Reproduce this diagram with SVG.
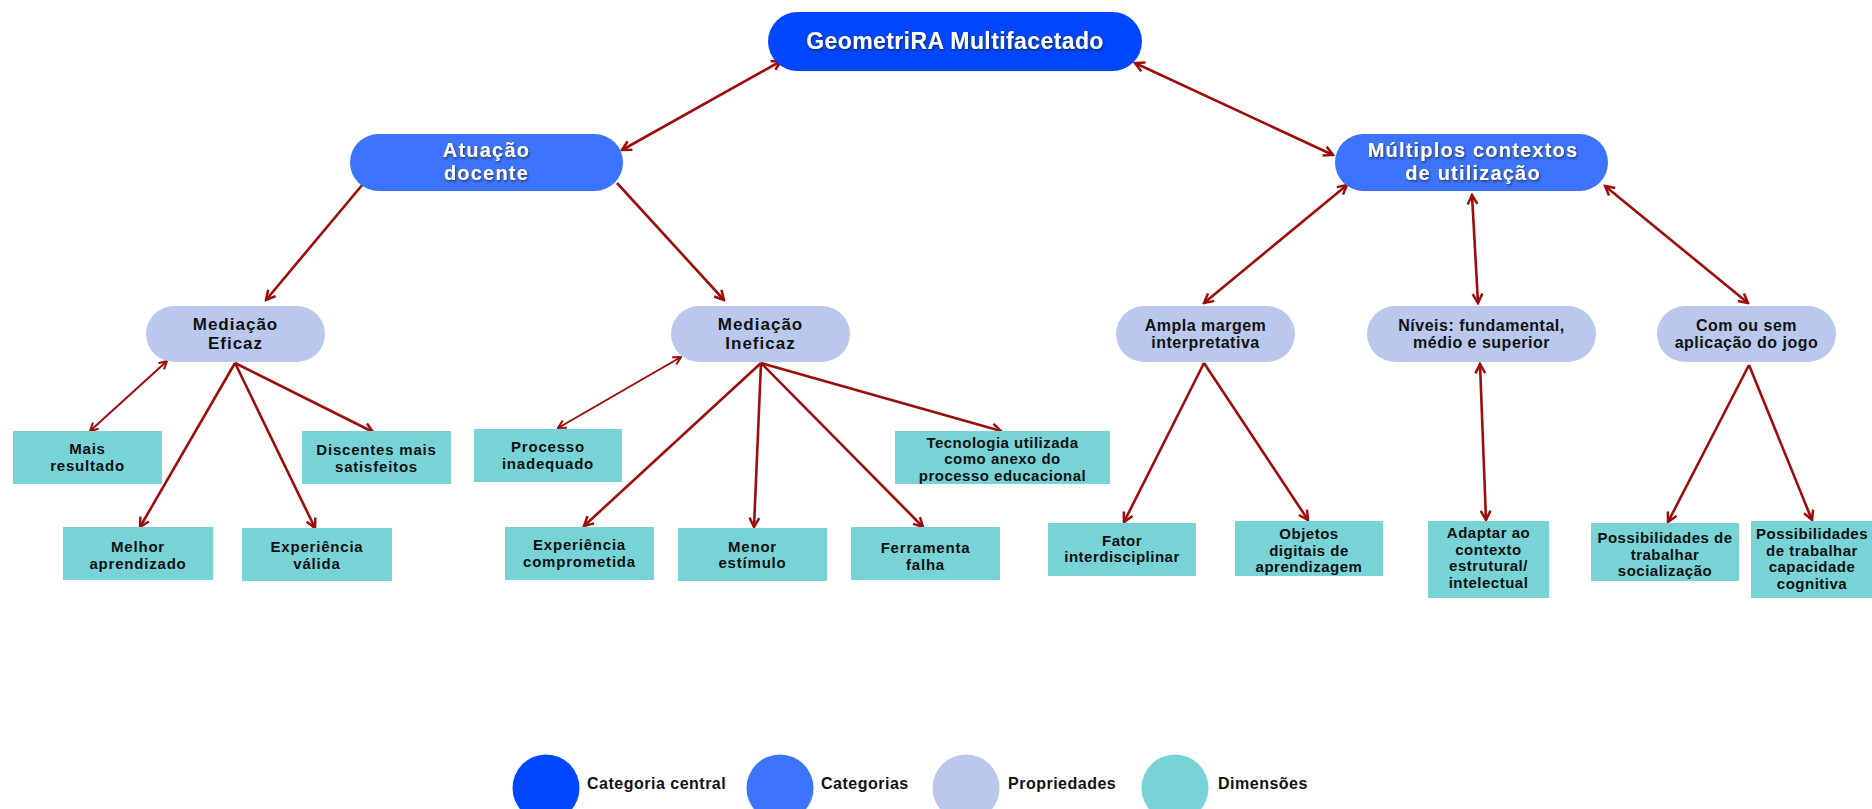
<svg xmlns="http://www.w3.org/2000/svg" width="1872" height="809" viewBox="0 0 1872 809">
<style>
.cen{fill:#0047FF}
.cat{fill:#3D74FD}
.prop{fill:#B9C8EC}
.dim{fill:#78D3D7}
.tw{font-family:"Liberation Sans",Arial,sans-serif;font-weight:bold;fill:#FFFFFF;text-anchor:middle;filter:url(#sh)}
.tp{font-family:"Liberation Sans",Arial,sans-serif;font-weight:bold;fill:#111111;text-anchor:middle;font-size:17px;letter-spacing:1px}
.tc{font-family:"Liberation Sans",Arial,sans-serif;font-weight:bold;fill:#111111;text-anchor:middle;font-size:16px;letter-spacing:0.5px}
.td{font-family:"Liberation Sans",Arial,sans-serif;font-weight:bold;fill:#111111;text-anchor:middle;font-size:15px;letter-spacing:0.8px}
.tn{font-family:"Liberation Sans",Arial,sans-serif;font-weight:bold;fill:#111111;text-anchor:middle;font-size:15px;letter-spacing:0.5px}
.tl{font-family:"Liberation Sans",Arial,sans-serif;font-weight:bold;fill:#111111;font-size:16px;letter-spacing:0.5px}
.ln{stroke:#9E0D0D;stroke-width:2.6;fill:none}
.lt{stroke:#9E0D0D;stroke-width:2;fill:none}
.one{marker-end:url(#ah)}
.two{marker-start:url(#ah);marker-end:url(#ah)}
.twos{marker-start:url(#ahs);marker-end:url(#ahs)}
</style>
<defs>
<filter id="sh" x="-10%" y="-30%" width="120%" height="160%">
<feDropShadow dx="1" dy="1.5" stdDeviation="0.8" flood-color="#222222" flood-opacity="0.75"/>
</filter>
<marker id="ah" viewBox="0 0 12 12" refX="10.5" refY="6" markerWidth="13" markerHeight="13" markerUnits="userSpaceOnUse" orient="auto-start-reverse">
<path d="M2,1.5 L10.5,6 L2,10.5" fill="none" stroke="#9E0D0D" stroke-width="2.3" stroke-linejoin="miter"/>
</marker>
<marker id="ahs" viewBox="0 0 12 12" refX="10.5" refY="6" markerWidth="11" markerHeight="11" markerUnits="userSpaceOnUse" orient="auto-start-reverse">
<path d="M2,1.5 L10.5,6 L2,10.5" fill="none" stroke="#9E0D0D" stroke-width="2.2" stroke-linejoin="miter"/>
</marker>
</defs>

<g id="connectors">
<line class="ln two" x1="622" y1="150" x2="781" y2="61"/>
<line class="ln two" x1="1135" y1="63" x2="1333" y2="155"/>
<line class="ln one" x1="363" y1="184" x2="266" y2="300"/>
<line class="ln one" x1="617" y1="183" x2="724" y2="300"/>
<line class="ln two" x1="1347" y1="185" x2="1204" y2="303"/>
<line class="ln two" x1="1472" y1="195" x2="1478" y2="303"/>
<line class="ln two" x1="1605" y1="186" x2="1748" y2="303"/>
<line class="lt twos" x1="167" y1="361" x2="90" y2="431"/>
<line class="ln one" x1="235" y1="363" x2="140" y2="527"/>
<line class="ln one" x1="235" y1="363" x2="315" y2="528"/>
<line class="ln one" x1="235" y1="363" x2="373" y2="432"/>
<line class="lt twos" x1="681" y1="357" x2="558" y2="428"/>
<line class="ln one" x1="761" y1="363" x2="584" y2="526"/>
<line class="ln one" x1="761" y1="363" x2="754" y2="527"/>
<line class="ln one" x1="761" y1="363" x2="923" y2="527"/>
<line class="ln one" x1="761" y1="363" x2="1001" y2="431"/>
<line class="ln one" x1="1204" y1="363" x2="1124" y2="522"/>
<line class="ln one" x1="1204" y1="363" x2="1308" y2="520"/>
<line class="ln two" x1="1480" y1="364" x2="1486" y2="520"/>
<line class="ln one" x1="1749" y1="365" x2="1668" y2="522"/>
<line class="ln one" x1="1749" y1="365" x2="1812" y2="520"/>
</g>

<g id="central">
<rect class="cen" x="768" y="12" width="374" height="59" rx="29.5"/>
<text class="tw" x="955" y="49" font-size="23" letter-spacing="0.4">GeometriRA Multifacetado</text>
</g>
<g id="atuacao">
<rect class="cat" x="350" y="134" width="273" height="57" rx="28.5"/>
<text class="tw" x="486.5" y="157" font-size="20" letter-spacing="1.2">Atuação</text>
<text class="tw" x="486.5" y="180" font-size="20" letter-spacing="1.2">docente</text>
</g>
<g id="multiplos">
<rect class="cat" x="1335" y="134" width="273" height="57" rx="28.5"/>
<text class="tw" x="1473" y="157" font-size="20" letter-spacing="1.2">Múltiplos contextos</text>
<text class="tw" x="1473" y="180" font-size="20" letter-spacing="1.2">de utilização</text>
</g>

<g id="mediacao-eficaz">
<rect class="prop" x="146" y="306" width="179" height="56" rx="28"/>
<text class="tp" x="235.5" y="330">Mediação</text>
<text class="tp" x="235.5" y="349">Eficaz</text>
</g>
<g id="mediacao-ineficaz">
<rect class="prop" x="671" y="306" width="179" height="56" rx="28"/>
<text class="tp" x="760.5" y="330">Mediação</text>
<text class="tp" x="760.5" y="349">Ineficaz</text>
</g>
<g id="ampla">
<rect class="prop" x="1116" y="306" width="179" height="56" rx="28"/>
<text class="tc" x="1205.5" y="331">Ampla margem</text>
<text class="tc" x="1205.5" y="348">interpretativa</text>
</g>
<g id="niveis">
<rect class="prop" x="1367" y="306" width="229" height="56" rx="28"/>
<text class="tc" x="1481.5" y="331">Níveis: fundamental,</text>
<text class="tc" x="1481.5" y="348">médio e superior</text>
</g>
<g id="com-ou-sem">
<rect class="prop" x="1657" y="306" width="179" height="56" rx="28"/>
<text class="tc" x="1746.5" y="331">Com ou sem</text>
<text class="tc" x="1746.5" y="348">aplicação do jogo</text>
</g>

<g id="mais-resultado">
<rect class="dim" x="13" y="431" width="149" height="53"/>
<text class="td" x="87.5" y="454">Mais</text>
<text class="td" x="87.5" y="471">resultado</text>
</g>
<g id="discentes">
<rect class="dim" x="302" y="431" width="149" height="53"/>
<text class="td" x="376.5" y="455">Discentes mais</text>
<text class="td" x="376.5" y="472">satisfeitos</text>
</g>
<g id="melhor">
<rect class="dim" x="63" y="527" width="150" height="53"/>
<text class="td" x="138" y="552">Melhor</text>
<text class="td" x="138" y="569">aprendizado</text>
</g>
<g id="experiencia-valida">
<rect class="dim" x="242" y="528" width="150" height="53"/>
<text class="td" x="317" y="552">Experiência</text>
<text class="td" x="317" y="569">válida</text>
</g>
<g id="processo">
<rect class="dim" x="474" y="429" width="148" height="53"/>
<text class="td" x="548" y="452">Processo</text>
<text class="td" x="548" y="469">inadequado</text>
</g>
<g id="tecnologia">
<rect class="dim" x="895" y="431" width="215" height="53"/>
<text class="tn" x="1002.5" y="448" letter-spacing="0.8">Tecnologia utilizada</text>
<text class="tn" x="1002.5" y="464" letter-spacing="0.8">como anexo do</text>
<text class="tn" x="1002.5" y="481" letter-spacing="0.8">processo educacional</text>
</g>
<g id="experiencia-comprometida">
<rect class="dim" x="505" y="527" width="149" height="53"/>
<text class="td" x="579.5" y="550">Experiência</text>
<text class="td" x="579.5" y="567">comprometida</text>
</g>
<g id="menor">
<rect class="dim" x="678" y="528" width="149" height="53"/>
<text class="td" x="752.5" y="552">Menor</text>
<text class="td" x="752.5" y="568">estímulo</text>
</g>
<g id="ferramenta">
<rect class="dim" x="851" y="527" width="149" height="53"/>
<text class="td" x="925.5" y="553">Ferramenta</text>
<text class="td" x="925.5" y="570">falha</text>
</g>
<g id="fator">
<rect class="dim" x="1048" y="523" width="148" height="53"/>
<text class="tn" x="1122" y="546">Fator</text>
<text class="tn" x="1122" y="562">interdisciplinar</text>
</g>
<g id="objetos">
<rect class="dim" x="1235" y="521" width="148" height="55"/>
<text class="tn" x="1309" y="539">Objetos</text>
<text class="tn" x="1309" y="556">digitais de</text>
<text class="tn" x="1309" y="572">aprendizagem</text>
</g>
<g id="adaptar">
<rect class="dim" x="1428" y="521" width="121" height="77"/>
<text class="tn" x="1488.5" y="538">Adaptar ao</text>
<text class="tn" x="1488.5" y="555">contexto</text>
<text class="tn" x="1488.5" y="571">estrutural/</text>
<text class="tn" x="1488.5" y="588">intelectual</text>
</g>
<g id="possibilidades-socializacao">
<rect class="dim" x="1591" y="523" width="148" height="58"/>
<text class="tn" x="1665" y="543">Possibilidades de</text>
<text class="tn" x="1665" y="560">trabalhar</text>
<text class="tn" x="1665" y="576">socialização</text>
</g>
<g id="possibilidades-cognitiva">
<rect class="dim" x="1751" y="521" width="125" height="77"/>
<text class="tn" x="1812" y="539">Possibilidades</text>
<text class="tn" x="1812" y="556">de trabalhar</text>
<text class="tn" x="1812" y="572">capacidade</text>
<text class="tn" x="1812" y="589">cognitiva</text>
</g>

<g id="legend">
<circle class="cen" cx="546" cy="788" r="33.5"/>
<text class="tl" x="587" y="789">Categoria central</text>
<circle class="cat" cx="780" cy="788" r="33.5"/>
<text class="tl" x="821" y="789">Categorias</text>
<circle class="prop" cx="966" cy="788" r="33.5"/>
<text class="tl" x="1008" y="789">Propriedades</text>
<circle class="dim" cx="1175" cy="788" r="33.5"/>
<text class="tl" x="1218" y="789">Dimensões</text>
</g>
</svg>
